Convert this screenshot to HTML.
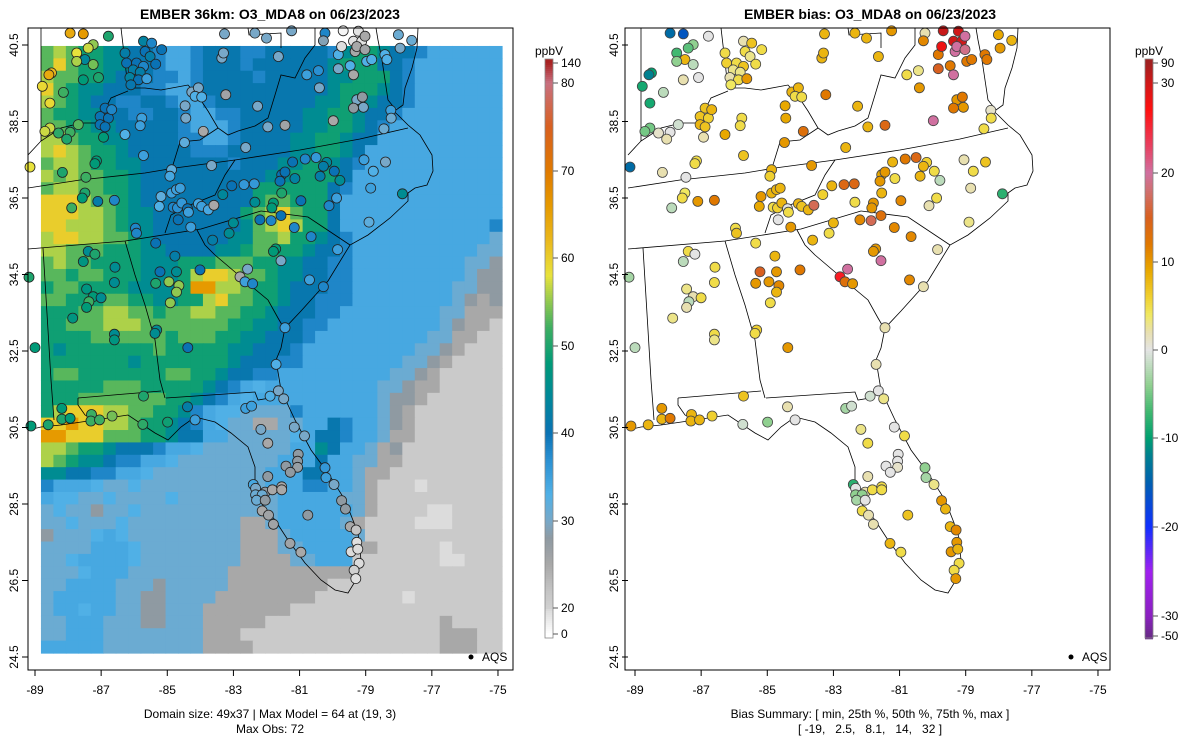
<!DOCTYPE html>
<html><head><meta charset="utf-8">
<style>
html,body{margin:0;padding:0;background:#fff;}
svg{display:block;font-family:"Liberation Sans",sans-serif;}
</style></head>
<body>
<svg id="fig" width="1200" height="750" viewBox="0 0 1200 750" xmlns="http://www.w3.org/2000/svg">
<defs>
<clipPath id="clipL"><rect x="28" y="28" width="485" height="642"/></clipPath>
<clipPath id="clipR"><rect x="625" y="28" width="485" height="642"/></clipPath>
</defs>
<rect width="1200" height="750" fill="#fff"/>
<text x="270" y="19" font-size="14" font-weight="bold" text-anchor="middle">EMBER 36km: O3_MDA8 on 06/23/2023</text>
<text x="870" y="19" font-size="14" font-weight="bold" text-anchor="middle">EMBER bias: O3_MDA8 on 06/23/2023</text>
<g id="gridL" clip-path="url(#clipL)"></g>
<g id="mapL" clip-path="url(#clipL)" fill="none" stroke="#000" stroke-width="0.8"></g>
<g id="mapR" clip-path="url(#clipR)" fill="none" stroke="#000" stroke-width="0.8"></g>
<g id="dotsL"></g>
<g id="dotsR"></g>
<rect x="28" y="28" width="485" height="642" fill="none" stroke="#000" stroke-width="1"/>
<rect x="625" y="28" width="485" height="642" fill="none" stroke="#000" stroke-width="1"/>
<g id="axes" font-size="12"></g>
<g id="cbars" font-size="12"></g>
<g><circle cx="471" cy="657" r="2.5" fill="#000"/><text x="482" y="661" font-size="12">AQS</text></g>
<g><circle cx="1071" cy="657" r="2.5" fill="#000"/><text x="1082" y="661" font-size="12">AQS</text></g>
<text x="270" y="718" font-size="12" text-anchor="middle">Domain size: 49x37 | Max Model = 64 at (19, 3)</text>
<text x="270" y="733" font-size="12" text-anchor="middle">Max Obs: 72</text>
<text x="870" y="718" font-size="12" text-anchor="middle">Bias Summary: [ min, 25th %, 50th %, 75th %, max ]</text>
<text x="870" y="733" font-size="12" text-anchor="middle" xml:space="preserve">[ -19,   2.5,   8.1,   14,   32 ]</text>
</svg>
<script>
// ---- data ----
const xTicks=[-89,-87,-85,-83,-81,-79,-77,-75];
const yTicks=[40.5,38.5,36.5,34.5,32.5,30.5,28.5,26.5,24.5];
const obsCbTicks=[140,80,70,60,50,40,30,20,0];
const biasCbTicks=[90,30,20,10,0,-10,-20,-30,-50];
// model grid levels (49 rows N->S, 37 cols W->E)
const gridRows=[
"GLGTTCCBBMSSMBBBMMBBBBBMCTTCBBMSSSSSSS",
"GYGTTCCBBMSSMBBBMBBBBBBCTTTBBMSSSSSSS",
"LGGTTCBBBMMSMBBBBMBBBBBCCTTTBMSSSSSSS",
"YGTCCBBBMMSSMBBBBBBBBBBCTTTCBMSSSSSSS",
"LGTCBBMMBBMSSMBBBBBBBBCCTTCBBMSSSSSSS",
"GTTCCBBMMBBMSSMMBBBBBCCTTCBBMSSSSSSSS",
"GGTTCCBBBBBMSSSMBBBBBCCTTCBMSSSSSSSSS",
"LLGTTCCBBBBMMSSMBBBBCCTTCBBSSSSSSSSSS",
"LYLGTTCBBBBBMMMBBBBBCCTTCBSSSSSSSSSSS",
"GLLGTTCCBBBBBBBMBBBCCTTCBMSSSSSSSSSSS",
"LGLGGTTCBBBBBBBBBBCCTTTTBSSSSSSSSSSSS",
"GLLGGTTCBBBBBBBBBTTTTTTBMSSSSSSSSSSSS",
"YYYLGGTCBBBBBBBBBTGGTTTBSSSSSSSSSSSSS",
"YYYLLGTCCBBBBBBBTGLYGTTBSSSSSSSSSSSSS",
"YYLLLGTCCBBBBBBBCGLYLTTBSSSSSSSSSSSSM",
"LYYLLGGTCBBBBBBCCGGLTTCBMSSSSSSSSSSSP",
"LLGGGTTTCCBBBBCCTGGTTCBBMSSSSSSSSSSPP",
"GLGGTTTTCCCTTTGGGTTCCBBMMSSSSSSSSSPPg",
"GGTGGTTTCCCTLYYLGGTCCBBMMSSSSSSSSSPgg",
"TGGTTTTCCCCTOOLLGTTCBBBMMSSSSSSSSPPgg",
"GGTTTGGTTCCTTLYGGTTCBBMMMSSSSSSSSPghg",
"TTTGGLLGGTGGLLGGTTCBBBMMSSSSSSSSPPhhh",
"TTGGGLLLGGGGGGGTTCCBBMMSSSSSSSSSPghhl",
"TTTTGGGGGGTGGGTTCCBBBMSSSSSSSSSPPhhll",
"TCTTTTTTTGTTTTTCCBBBMSSSSSSSSSPPghlll",
"TTTTTTTCTTTTTTTCBBBMMSSSSSSSSPPghllll",
"TGGTTTTTTTGGTTCBBMMSSSSSSSSSPPghlllll",
"TTTTTGGGTTTTTCBMSsSSSSSSSSSPPghhlllll",
"TTTGGGGGGGTTCBMSsSSSSSSSSSSPgghllllll",
"TLYYYLLGGTTCMSssPPPPMSSSSSSPghlllllll",
"YYOYYLLGTTCBMSsPPhhPPSSBMSSPghlllllll",
"OOYYYGGGTTCBBSSPPPPPsSBBMSSPhhlllllll",
"LLGTTCBBBMSSsPPPPPPPSSCBSSPhgllllllll",
"LGTCCBMMSSsPPPPPPPPSSSBSSPPhhllllllll",
"CCBBMMSSsPPPPPPPPPSSSBBSSPhhlllllllll",
"MSSSsPPsPPPPPPPPPPSSSMMSSPhlllwllllll",
"SssPPsPPPPsPPPPPPPPSSSSSPPhllllllllll",
"PsPPgPPsPPPPPPPPPPPSSSSSSPhllllwwllll",
"PPsPPPsPPPPPPPPPhhPSSSSSPhllllwwwllll",
"gPPPsSsPPPPPPPPPhhhPSSSSSPlllllllllll",
"PPPPSSSsPPPPPPPPhhhPPSSSShhlllllwllll",
"PPsSSSSsPPPPPPPPhhhhPPSSSlllllllwwlll",
"PPPsSSSPPPPPPPPhhhhhhhhhhllllllllllll",
"PPSSSSPPPgPPPPPhhhhhhhhllllllllllllll",
"PSSSSSPPggPPPPhhhhhhhhlllllllwlllllll",
"PSSsSSPPggPPPhhhhhhhllllllllllllllll",
"PPSSSPPPggPPPhhhhhllllllllllllllhllll",
"PPSSSPPPPPPPPhhhllllllllllllllllhhhll",
"SSSSSPPPPPPPPhhhhlllllllllllllllhhhll"];
const levelValues={O:66,Y:60,L:56,G:53,T:49,C:45,B:41,M:38,S:34,s:33,P:31,g:28,h:25,l:21,w:18};
// stations [lon, lat]
const stLon=[-87.94,-87.54,-86.78,-87.24,-87.39,-87.74,-87.49,-87.74,-87.24,-88.50,-88.58,-87.54,-87.08,-88.78,-88.14,-88.55,-88.55,-88.70,-88.29,-87.94,-88.04,-87.69,-86.93,-86.28,-85.77,-85.82,-86.88,-87.03,-86.78,-86.68,-87.03,-86.88,-87.14,-87.19,-88.17,-87.46,-87.49,-87.57,-87.89,-87.10,-86.60,-86.28,-85.72,-85.47,-85.67,-85.52,-85.17,-86.23,-85.93,-85.72,-86.03,-85.82,-85.35,-86.13,-85.87,-86.10,-85.62,-84.26,-84.06,-84.16,-83.96,-84.46,-84.44,-84.48,-83.91,-83.23,-83.35,-83.30,-83.27,-82.35,-82.00,-81.24,-81.64,-82.27,-81.96,-81.44,-82.63,-85.72,-84.87,-84.92,-83.66,-80.78,-80.43,-80.40,-80.23,-80.28,-79.83,-79.83,-79.47,-79.73,-79.37,-79.12,-79.22,-79.68,-79.32,-79.27,-79.02,-79.02,-79.37,-78.97,-78.82,-78.42,-78.36,-78.01,-77.96,-77.61,-79.27,-79.10,-79.37,-79.07,-78.24,-78.23,-78.45,-79.98,-81.21,-81.14,-80.83,-80.50,-80.18,-80.28,-79.95,-79.78,-80.38,-81.54,-81.59,-81.44,-82.37,-82.68,-83.05,-83.32,-81.54,-81.79,-81.84,-82.35,-80.96,-80.11,-79.88,-79.05,-78.40,-78.77,-78.85,-77.89,-78.90,-85.19,-85.24,-84.87,-84.72,-84.61,-84.82,-84.69,-84.56,-84.39,-84.36,-84.06,-83.96,-83.76,-83.59,-84.67,-84.29,-83.00,-83.13,-83.63,-82.20,-81.86,-81.56,-81.16,-80.65,-85.35,-85.96,-85.93,-81.72,-81.79,-87.39,-87.19,-79.85,-89.15,
-87.54,-86.58,-86.60,-87.44,-87.24,-87.00,-87.37,-87.44,-87.86,-86.60,-86.60,-89.00,-89.18,-84.77,-85.22,-84.72,-84.01,-85.35,-84.95,-84.65,-84.72,-84.91,-85.32,-85.37,-84.38,-82.57,-82.80,-82.65,-82.42,-81.56,-80.70,-80.28,-81.44,-81.71,-85.72,-84.39,-84.99,-85.74,-84.16,-81.89,-81.64,-81.48,-82.63,-82.45,-88.19,-88.19,-87.94,-88.60,-89.12,-87.29,-87.31,-87.05,-86.67,-82.17,-81.16,-80.85,-81.96,-81.04,-81.06,-81.06,-81.41,-81.28,-81.96,-82.40,-82.33,-82.04,-81.82,-81.54,-81.54,-82.33,-82.13,-82.30,-82.04,-82.13,-81.94,-81.79,-80.75,-80.23,-80.20,-79.96,-79.73,-79.61,-79.47,-79.29,-79.27,-79.44,-79.24,-79.20,-79.35,-81.29,-80.96,-79.30];
const stLat=[40.81,40.79,40.73,40.51,40.42,40.29,40.12,40.07,39.99,39.77,39.72,39.59,39.65,39.42,39.26,38.98,38.33,38.24,38.20,38.22,38.04,38.42,38.09,38.16,38.59,38.39,38.85,38.63,38.59,38.81,38.42,38.36,37.47,37.40,37.17,37.04,36.63,36.50,36.24,36.41,36.44,40.29,40.60,40.55,40.33,40.20,40.38,40.03,40.03,39.94,39.85,39.79,40.00,39.65,39.59,39.46,39.62,39.27,39.38,39.16,39.14,38.91,38.59,37.95,38.24,39.20,40.16,40.29,40.79,40.81,40.68,40.87,40.20,38.90,38.36,38.40,37.82,37.61,37.24,37.07,37.35,39.72,39.83,39.38,40.81,40.61,40.25,39.88,39.96,40.46,40.60,40.60,40.86,40.87,40.33,40.46,40.38,40.73,39.72,40.07,40.12,40.25,40.12,40.77,40.42,40.62,39.07,39.14,38.85,38.87,38.79,38.59,38.31,38.52,37.44,37.01,37.52,37.56,37.43,37.33,37.20,36.96,37.07,37.11,36.94,37.18,36.87,36.85,36.82,36.59,36.63,36.37,36.24,36.39,36.43,36.30,36.50,37.50,37.44,37.20,36.76,36.61,35.87,36.54,36.28,36.63,36.72,36.76,36.26,36.24,36.37,36.22,36.13,36.35,36.28,36.19,36.31,35.93,35.74,35.85,35.58,35.40,35.93,35.91,36.04,35.73,35.49,35.32,35.71,35.58,35.17,35.105,35.105,35.03,35.15,37.31,
34.84,34.69,34.29,34.12,33.92,33.89,33.79,33.64,33.36,32.94,32.79,32.59,34.43,34.98,34.57,34.57,34.62,34.27,34.31,34.21,34.04,33.76,33.05,32.96,32.59,34.64,34.44,34.31,34.26,34.86,34.36,34.18,33.11,32.15,31.32,31.04,30.64,30.58,30.70,31.32,31.46,31.25,31.00,31.06,31.00,30.72,30.74,30.57,30.54,30.84,30.67,30.70,30.80,30.45,30.51,30.28,30.09,29.80,29.62,29.46,29.49,29.33,29.22,29.01,28.91,28.81,28.87,28.95,28.87,28.74,28.74,28.60,28.60,28.32,28.21,27.97,28.21,29.45,29.19,29.01,28.59,28.37,27.91,27.82,27.50,27.25,27.32,26.95,26.77,27.47,27.24,26.55];
const stObs=[64,66,50,55,57,58,44,56,54,62,64,48,50,59,52,59,57,57,51,52,50,53,48,33,35,35,40,40,40,38,40,40,48,48,50,52,50,48,52,42,38,42,43,38,40,42,40,40,40,38,42,42,40,43,40,41,35,30,30,33,33,30,30,32,25,26,30,30,30,30,30,30,30,30,30,26,30,35,32,34,30,35,37,30,38,29,33,30,33,17,15,15,15,5,25,25,26,25,25,33,33,33,33,31,30,31,30,28,28,30,35,31,31,25,40,43,38,36,44,42,40,45,42,40,40,40,36,36,40,44,50,48,48,45,40,38,35,35,30,33,35,45,32,32,33,35,35,35,38,37,36,40,35,34,35,34,25,40,35,45,45,42,40,38,40,38,38,40,38,38,48,48,45,50,35,58,
47,45,45,47,48,45,52,48,47,45,47,48,50,42,40,45,40,50,55,55,55,55,45,45,40,30,25,35,38,30,35,38,35,33,50,42,49,51,35,33,30,30,35,35,48,50,48,50,48,52,52,52,54,30,30,30,25,28,28,27,28,28,28,34,30,28,25,25,25,31,31,31,28,25,26,26,28,36,35,30,28,28,25,22,16,18,18,18,20,26,25,16];
const stBias=[-14,-16,0,-4,-6,-7,8,-4,-2,-10,-12,2,0,-9,-2,-9,-5,-5,1,0,2,-1,2,9,5,5,7,7,6,8,8,7,5,5,2,0,4,5,-2,10,12,5,2,7,5,3,5,6,5,7,3,3,5,2,5,4,10,8,8,5,5,9,9,10,13,12,8,8,8,8,8,10,8,8,8,14,8,7,8,6,10,5,3,10,2,11,12,15,12,28,30,30,30,40,20,20,19,20,20,12,12,12,12,9,10,8,10,12,12,10,1,5,5,20,8,5,12,14,6,8,5,-2,8,9,10,10,14,14,8,6,8,10,10,5,11,2,5,2,7,5,2,-8,3,10,9,8,8,8,5,6,8,0,5,8,7,8,17,0,10,8,5,8,11,17,13,11,11,5,5,7,10,10,5,0,2,-14,
-2,5,5,3,2,5,-2,2,3,5,3,-2,-3,8,15,10,12,10,10,11,8,5,6,5,10,20,26,13,10,20,11,2,2,2,7,2,-4,-1,0,-1,0,3,-3,-1,10,8,12,8,10,8,8,8,6,3,0,5,5,0,0,1,0,0,2,-8,0,2,5,5,5,-4,-4,-3,0,5,2,2,7,-4,-3,3,10,8,8,11,10,10,8,5,5,8,5,10];
// colour scales (value -> colour stops)
const obsStopV=[0,18,22,25,28,30,33,37,40,44,48,52,55,58,62,66,70,75,80,140];
const obsStopC=["#ffffff","#dcdcdc","#c4c4c4","#a8a8a8","#8f9aa2","#78a8c8","#50b0e6","#2a90d2","#0a72b4","#00879a","#009a78","#3cae62","#90c850","#e8e23c","#eab81c","#e69a00","#e07a00","#d86020","#c87080","#a82222"];
const biasStopV=[-50,-30,-25,-20,-15,-12,-10,-7,-4,-1,0,2,4,6,9,12,15,18,20,23,27,30,90];
const biasStopC=["#6a2a8a","#8a20c0","#a020f0","#1030ff","#0060b0","#008090","#00a070","#40b870","#90d090","#d0e0d0","#e4e4e4","#e8e0b0","#f0e860","#f0d030","#e8a800","#e07800","#d86020","#d07070","#d070a0","#e84060","#ff1010","#d01818","#a02020"];
const obsCbY=[63,83,171,258,346,433,521,608,634];
const biasCbY=[63,83,173,262,350,438,527,616,636];

// ---- helpers ----
const NS="http://www.w3.org/2000/svg";
function mk(tag,attrs,parent){const e=document.createElementNS(NS,tag);for(const k in attrs)e.setAttribute(k,attrs[k]);parent.appendChild(e);return e;}
function X(lon,off){return 35+(lon+89)*33.07+off;}
function Y(lat){return 45+(40.5-lat)*38.25;}
function hex(c){return [parseInt(c.substr(1,2),16),parseInt(c.substr(3,2),16),parseInt(c.substr(5,2),16)];}
function colorOf(v,sv,sc){
  if(v<=sv[0])return sc[0];if(v>=sv[sv.length-1])return sc[sc.length-1];
  for(let i=0;i<sv.length-1;i++){if(v>=sv[i]&&v<=sv[i+1]){const t=(v-sv[i])/(sv[i+1]-sv[i]);const a=hex(sc[i]),b=hex(sc[i+1]);
    return "rgb("+a.map((x,k)=>Math.round(x+(b[k]-x)*t)).join(",")+")";}}
}
function interp(y,ys,vs){for(let i=0;i<ys.length-1;i++){if(y>=ys[i]&&y<=ys[i+1])return vs[i]+(vs[i+1]-vs[i])*(y-ys[i])/(ys[i+1]-ys[i]);}return y<ys[0]?vs[0]:vs[vs.length-1];}

// ---- model grid ----
const gL=document.getElementById('gridL');
const GLON0=-88.82,GDLON=0.3768,GLAT0=40.475,GDLAT=0.3239;
gridRows.forEach((row,i)=>{
  for(let j=0;j<37;j++){
    const ch=row[Math.min(j,row.length-1)];
    const v=levelValues[ch];
    const x0=X(GLON0+j*GDLON,0),x1=X(GLON0+(j+1)*GDLON,0);
    const y0=Y(GLAT0-i*GDLAT),y1=Y(GLAT0-(i+1)*GDLAT);
    const r=mk('rect',{x:x0.toFixed(2),y:y0.toFixed(2),width:(x1-x0+0.6).toFixed(2),height:(y1-y0+0.6).toFixed(2),fill:colorOf(v,obsStopV,obsStopC)},gL);
    
    
  }
});

// ---- map outlines (pixel paths, left panel frame) ----
const outlines=[
 [[418,28],[417,48],[412,68],[405,88],[403,105],[396,110],[388,100],[385,80],[382,60],[378,40],[376,28]],
 [[390,108],[398,115],[408,125],[420,135],[432,155],[433,171],[427,185],[415,188],[408,193],[408,201],[390,218],[368,235],[350,245],[328,281],[301,311],[285,328],[281,348],[276,360],[281,390],[295,420],[311,450],[328,473],[345,500],[358,533],[361,560],[356,580],[348,593],[335,590],[321,580],[305,563],[288,540],[275,520],[261,503],[255,487],[255,467],[248,447],[231,433],[215,422],[195,417],[181,427],[168,440],[155,433],[128,415],[95,420],[61,425],[41,427],[28,430]],
 [[28,188],[80,180],[145,173],[175,168],[235,160],[300,150],[360,139],[408,128]],
 [[235,160],[225,175],[215,195],[190,205],[171,215],[165,233]],
 [[28,249],[125,241],[201,229],[261,211]],
 [[261,211],[308,217],[350,245]],
 [[197,230],[205,245],[215,255],[235,272],[250,285],[268,300],[278,318],[285,330]],
 [[125,241],[135,275],[145,305],[155,340],[160,380],[165,398]],
 [[166,398],[255,392],[258,400],[270,398],[283,388]],
 [[78,398],[161,391]],[[78,398],[78,405],[85,415],[95,420]],
 [[43,248],[48,330],[51,380],[54,420]],
 [[121,28],[128,88],[145,88],[161,90],[188,85],[198,96],[208,111],[218,128],[228,135],[238,131],[255,126],[268,118],[275,95],[281,75],[295,78],[305,58],[315,45],[315,28]],
 [[248,28],[249,35],[281,33],[281,48]],
 [[41,28],[41,141]],
 [[28,155],[41,141],[61,128],[81,123],[98,123],[111,98],[128,91]],
 [[218,128],[200,140],[180,142],[172,168]]
];
['mapL','mapR'].forEach((id,k)=>{
  const g=document.getElementById(id);const off=k*600;
  outlines.forEach(pl=>{
    const p=mk('polyline',{points:pl.map(q=>(q[0]+off)+','+q[1]).join(' ')},g);
    
    
  });
});

// ---- station points ----
const dL=document.getElementById('dotsL'),dR=document.getElementById('dotsR');
for(let i=0;i<stLon.length;i++){
  const a=mk('circle',{cx:X(stLon[i],0).toFixed(1),cy:Y(stLat[i]).toFixed(1),r:5,fill:colorOf(stObs[i],obsStopV,obsStopC),stroke:'#222','stroke-width':0.8},dL);
  
  
  const b=mk('circle',{cx:X(stLon[i],600).toFixed(1),cy:Y(stLat[i]).toFixed(1),r:5,fill:colorOf(stBias[i],biasStopV,biasStopC),stroke:'#444','stroke-width':0.8},dR);
  
  
}

// ---- axes ----
const ax=document.getElementById('axes');
[0,600].forEach(off=>{
  xTicks.forEach(t=>{
    const x=X(t,off);
    mk('line',{x1:x,y1:670,x2:x,y2:676,stroke:'#000'},ax);
    const tx=mk('text',{x:x,y:694,'text-anchor':'middle'},ax);tx.textContent=t;
    
    
  });
  yTicks.forEach(t=>{
    const y=Y(t);const x0=28+off;
    mk('line',{x1:x0,y1:y,x2:x0-6,y2:y,stroke:'#000'},ax);
    const tx=mk('text',{x:x0-10,y:y,'text-anchor':'middle',transform:'rotate(-90 '+(x0-10)+' '+y+')'},ax);tx.textContent=t.toFixed(1);
    
    
  });
});

// ---- colorbars ----
const cb=document.getElementById('cbars');
function colorbar(x,ys,vals,sv,sc,name){
  for(let y=59;y<638;y+=2){
    const v=interp(y+1,ys,vals);
    mk('rect',{x:x,y:y,width:8,height:2.3,fill:colorOf(v,sv,sc)},cb);
  }
  const fr=mk('rect',{x:x,y:59,width:8,height:579,fill:'none',stroke:'#888','stroke-width':0.8},cb);
  
  
  ys.forEach((y,i)=>{
    mk('line',{x1:x+8,y1:y,x2:x+13,y2:y,stroke:'#555'},cb);
    const t=mk('text',{x:x+16,y:y+4},cb);t.textContent=vals[i];
    
    
  });
  const u=mk('text',{x:x+4,y:55,'text-anchor':'middle'},cb);u.textContent='ppbV';
  
  
}
colorbar(545,obsCbY,obsCbTicks,obsStopV,obsStopC,'obs-colorbar');
colorbar(1145,biasCbY,biasCbTicks,biasStopV,biasStopC,'bias-colorbar');
</script>
</body></html>
